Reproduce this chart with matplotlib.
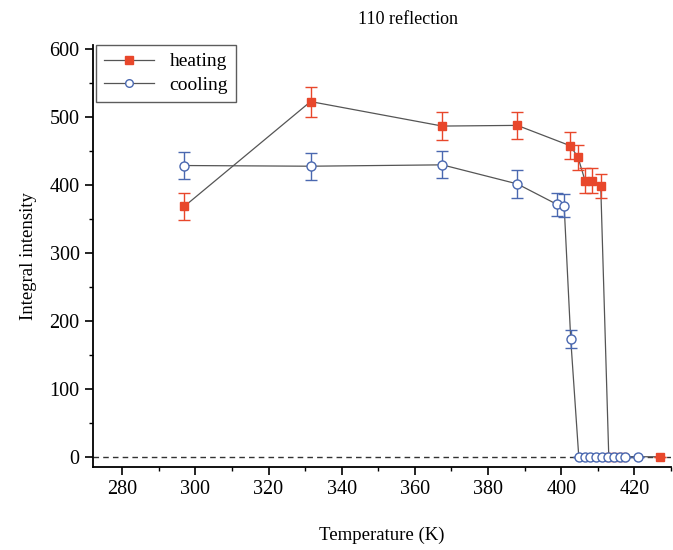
import matplotlib
matplotlib.use('Agg')
import matplotlib.pyplot as plt
from matplotlib.ticker import MultipleLocator

plt.rcParams['font.family'] = ['Liberation Serif', 'DejaVu Serif']

# heating run
heat_T = [297, 331.5, 367.5, 388, 402.5, 404.6, 406.5, 408.5, 410.8, 413, 415, 417, 427]
heat_I = [368, 522, 486, 487, 457, 440, 406, 406, 398, 0, 0, 0, 0]
heat_err = [20, 22, 20, 20, 20, 18, 18, 18, 18, 0, 0, 0, 0]

# cooling run
cool_T = [297, 331.5, 367.5, 388, 398.8, 400.8, 402.6, 404.8, 406.4, 408, 409.6, 411.2, 412.8, 414.4, 416, 417.4, 421]
cool_I = [428, 427, 429, 401, 371, 369, 173, 0, 0, 0, 0, 0, 0, 0, 0, 0, 0]
cool_err = [20, 20, 20, 20, 17, 17, 13, 0, 0, 0, 0, 0, 0, 0, 0, 0, 0]

red = '#e8472b'
blue = '#4a68b0'

fig = plt.figure(figsize=(6.73, 5.5), dpi=100)
ax = fig.add_axes([0.138, 0.151, 0.859, 0.767])

ax.axhline(0, color='#333333', linestyle='--', linewidth=1, dashes=(4, 3), zorder=1)

ax.plot(heat_T, heat_I, color='#555555', linewidth=0.9, zorder=2)
ax.errorbar(heat_T, heat_I, yerr=heat_err, fmt='none', ecolor=red, elinewidth=1,
            capsize=4, capthick=1, zorder=3)
ax.plot(cool_T, cool_I, color='#555555', linewidth=0.9, zorder=2)
ax.errorbar(cool_T, cool_I, yerr=cool_err, fmt='none', ecolor=blue, elinewidth=1,
            capsize=4, capthick=1, zorder=3)
ax.plot(heat_T, heat_I, linestyle='none', marker='s', markersize=5.5, color=red, zorder=4)
ax.plot(cool_T, cool_I, linestyle='none', marker='o', markersize=6.5, markerfacecolor='white',
        markeredgecolor=blue, markeredgewidth=1, zorder=5)

# legend handles
h1, = ax.plot([], [], color='#555555', linewidth=0.9, marker='s', markersize=5.5, markerfacecolor=red,
              markeredgecolor=red, label='heating')
h2, = ax.plot([], [], color='#555555', linewidth=0.9, marker='o', markersize=5.5, markerfacecolor='white',
              markeredgecolor=blue, label='cooling')
leg = ax.legend([h1, h2], ['heating', 'cooling'], loc='upper left', fontsize=14, frameon=True,
                fancybox=False, edgecolor='#333333', handlelength=2.6, handletextpad=0.8,
                borderpad=0.4, labelspacing=0.3,
                borderaxespad=0.0, bbox_to_anchor=(0.005, 1.0))
leg.get_frame().set_linewidth(1)

ax.set_xlim(272, 430)
ax.set_ylim(-15, 605)
ax.xaxis.set_major_locator(MultipleLocator(20))
ax.xaxis.set_minor_locator(MultipleLocator(10))
ax.yaxis.set_major_locator(MultipleLocator(100))
ax.yaxis.set_minor_locator(MultipleLocator(50))
ax.tick_params(which='major', direction='out', length=6, width=1.2, labelsize=14.5)
ax.tick_params(which='minor', direction='out', length=3, width=1)
for s in ['top', 'right']:
    ax.spines[s].set_visible(False)
for s in ['left', 'bottom']:
    ax.spines[s].set_linewidth(1.3)

ax.set_xlabel('Temperature (K)', fontsize=13.5, labelpad=20)
ax.set_ylabel('Integral intensity', fontsize=13.5, labelpad=9)
fig.text(0.606, 0.965, '110 reflection', fontsize=13, ha='center', va='center')

fig.savefig('out.png', dpi=100)
